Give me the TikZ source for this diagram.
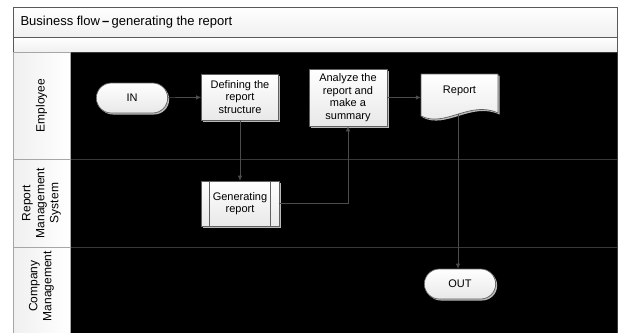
\documentclass[tikz,border=0pt]{standalone}
\usepackage{fontspec}
\setmainfont{Liberation Sans}
\usetikzlibrary{shapes.misc,shadows,arrows.meta,calc}

\begin{document}
\begin{tikzpicture}[x=1pt, y=-1pt,
bar/.style={draw=gray!70!black, line width=0.8pt, top color=white, bottom color=gray!12},
header/.style={draw=gray!70, line width=0.6pt, left color=gray!12, right color=white},
lane/.style={draw=gray!45!black, line width=1pt, fill=black},
lanetext/.style={rotate=90, align=center, font=\fontsize{12}{14}\selectfont},
task/.style={rectangle, draw=gray!75!black, line width=0.7pt, top color=white, bottom color=gray!18, drop shadow={fill=gray!55, shadow xshift=1.5pt, shadow yshift=-1.5pt, opacity=1}, align=center, inner sep=1pt, font=\fontsize{11}{12.5}\selectfont},
terminal/.style={rounded rectangle, draw=gray!75!black, line width=0.7pt, top color=white, bottom color=gray!18, drop shadow={fill=gray!55, shadow xshift=1.5pt, shadow yshift=-1.5pt, opacity=1}, minimum width=78pt, minimum height=30pt, font=\fontsize{11}{13}\selectfont},
flow/.style={draw=gray!60!black, line width=0.7pt, -{Latex[length=5pt, width=4.5pt]}},
]
\useasboundingbox (0,0) rectangle (618,332);
\clip (0,0) rectangle (618,332);

\path[bar] (13,7) rectangle (617,37);
\path[bar] (13,37) rectangle (617,52);
\node[anchor=west, font=\fontsize{13}{15}\selectfont] (title) at (17,22) {Business flow\,\textbf{--}\,generating the report};

\path[lane] (70,52) rectangle (617,159);
\path[lane] (70,159) rectangle (617,247);
\path[lane] (70,247) rectangle (617,345);
\path[header] (13,52) rectangle (70,159);
\path[header] (13,159) rectangle (70,247);
\path[header] (13,247) rectangle (70,345);

\node[lanetext] (employee) at (41.5,105.5) {Employee};
\node[lanetext] (rms) at (41.5,203) {Report\\Management\\System};
\node[lanetext] (company) at (41.5,286) {Company\\Management};

\node[terminal] (in) at (132,98) {IN};
\node[task, minimum width=77pt, minimum height=46pt] (def) at (240,97) {Defining the\\report\\structure};
\node[task, minimum width=78pt, minimum height=45pt] (gen) at (240,203.5) {Generating\\report};
\draw[draw=gray!75!black, line width=0.7pt] ([xshift=9pt]gen.north west) -- ([xshift=9pt]gen.south west)
  ([xshift=-9pt]gen.north east) -- ([xshift=-9pt]gen.south east);
\node[task, minimum width=78pt, minimum height=57pt] (ana) at (348,97.5) {Analyze the\\report and\\make a\\summary};

\path[draw=gray!75!black, line width=0.7pt, top color=white, bottom color=gray!18, drop shadow={fill=gray!55, shadow xshift=1.5pt, shadow yshift=-1.5pt, opacity=1}]
  (421,74) -- (498,74) -- (498,113) .. controls (470,100) and (445,128) .. (421,116) coordinate[pos=0.5] (repw) -- cycle;
\node[font=\fontsize{11}{13}\selectfont, minimum width=77pt, minimum height=34pt] (rep) at (459.5,91) {Report};

\node[terminal] (out) at (460,284) {OUT};

\draw[flow] (in) -- (def);
\draw[flow] (def) -- (gen);
\draw[flow] (gen.east) -| (ana.south);
\draw[flow] (ana.east) -- (ana.east -| rep.west);
\draw[flow] (repw) -- (repw |- out.north);
\end{tikzpicture}
\end{document}
